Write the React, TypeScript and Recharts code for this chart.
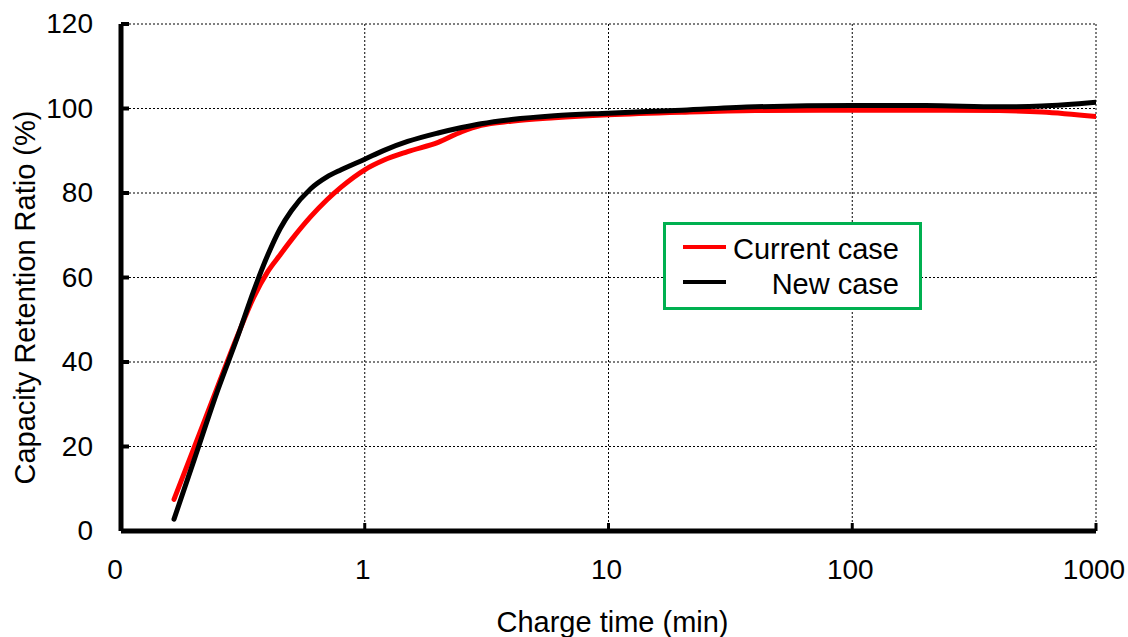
import React from 'react';
import { LineChart, Line, XAxis, YAxis, CartesianGrid, Legend } from 'recharts';

const chargeTimes = [0.165, 0.2, 0.25, 0.3, 0.35, 0.4, 0.45, 0.5, 0.6, 0.7, 0.8, 1, 1.2, 1.5, 2, 2.5, 3, 4, 6, 10, 20, 40, 100, 200, 400, 600, 1000];
const currentCase = [7.5, 19.9, 34.4, 46.1, 55.3, 61.4, 65.4, 68.9, 74.4, 78.4, 81.4, 85.5, 87.8, 89.8, 92, 94.5, 96, 97, 97.8, 98.5, 99.1, 99.5, 99.6, 99.6, 99.5, 99.2, 98.1];
const newCase = [2.8, 17, 33.5, 45.8, 56.8, 65.3, 71.6, 75.8, 81, 83.8, 85.5, 88, 90.1, 92.2, 94.2, 95.5, 96.4, 97.4, 98.3, 98.9, 99.6, 100.4, 100.7, 100.7, 100.4, 100.6, 101.5];

const xTicks = [0.1, 1, 10, 100, 1000];
const xTickLabels = ['0', '1', '10', '100', '1000'];
const yTicks = [0, 20, 40, 60, 80, 100, 120];

const seriesNames = { current: 'Current case', newc: 'New case' };

const data = chargeTimes.map((x, i) => ({ x, current: currentCase[i], newc: newCase[i] }));

const FONT = '"Liberation Sans", Arial, Helvetica, sans-serif';

const XTick = (props: any) => {
  const { x, y, payload, index } = props;
  const i = xTicks.indexOf(payload.value);
  const label = i >= 0 ? xTickLabels[i] : String(payload.value);
  const dx = index === 0 ? -6 : -2;
  return (
    <g>
      {index !== 0 && <line x1={x} x2={x} y1={y} y2={y - 8} stroke="#000" strokeWidth={3} />}
      <text x={x + dx} y={y + 48} textAnchor="middle" fontSize={28} fontFamily={FONT} fill="#000">
        {label}
      </text>
    </g>
  );
};

const YTick = (props: any) => {
  const { x, y, payload, index } = props;
  return (
    <g>
      {index !== 0 && <line x1={x} x2={x + 8} y1={y} y2={y} stroke="#000" strokeWidth={4} />}
      <text x={x - 28} y={y + 9} textAnchor="end" fontSize={28} fontFamily={FONT} fill="#000">
        {payload.value}
      </text>
    </g>
  );
};

const XLabel = (props: any) => {
  const vb = props.viewBox || { x: 121, y: 531, width: 975, height: 106 };
  return (
    <text x={vb.x + vb.width / 2 + 4} y={vb.y + 101} textAnchor="middle" fontSize={29} fontFamily={FONT} fill="#000">
      Charge time (min)
    </text>
  );
};

const YLabel = (props: any) => {
  const vb = props.viewBox || { x: 0, y: 24, width: 121, height: 507 };
  const cx = vb.x + 35;
  const cy = vb.y + vb.height / 2 + 20;
  return (
    <text x={cx} y={cy} transform={`rotate(-90, ${cx}, ${cy})`} textAnchor="middle" fontSize={29} fontFamily={FONT} fill="#000">
      Capacity Retention Ratio (%)
    </text>
  );
};

const LegendBox = (props: any) => {
  const payload = props.payload || [];
  return (
    <svg width={260} height={88} style={{ display: 'block' }}>
      <rect x={1.5} y={1.5} width={256} height={85} fill="#fff" stroke="#00B050" strokeWidth={3} />
      {payload.map((entry: any, i: number) => (
        <g key={i}>
          <line x1={20} x2={63} y1={25 + i * 35} y2={25 + i * 35} stroke={entry.color} strokeWidth={4} />
          <text x={236} y={37 + i * 35} textAnchor="end" fontSize={29} fontFamily={FONT} fill="#000">
            {entry.value}
          </text>
        </g>
      ))}
    </svg>
  );
};

export default function App() {
  return (
    <div style={{ position: 'absolute', left: 0, top: 0, width: 1128, height: 637, background: '#fff' }}>
      <LineChart width={1128} height={637} data={data} margin={{ top: 24, right: 32, bottom: 0, left: 0 }}>
        <CartesianGrid stroke="#000" strokeDasharray="2 2" strokeWidth={1} />
        <XAxis
          dataKey="x"
          type="number"
          scale="log"
          domain={[0.1, 1000]}
          ticks={xTicks}
          allowDataOverflow
          height={106}
          tickSize={0}
          tickMargin={0}
          tickLine={false}
          tick={XTick}
          axisLine={{ stroke: '#000', strokeWidth: 5 }}
          label={XLabel}
          interval={0}
        />
        <YAxis
          type="number"
          domain={[0, 120]}
          ticks={yTicks}
          width={121}
          tickSize={0}
          tickMargin={0}
          tickLine={false}
          tick={YTick}
          axisLine={{ stroke: '#000', strokeWidth: 5 }}
          label={YLabel}
          interval={0}
        />
        <Legend
          layout="vertical"
          align="center"
          verticalAlign="middle"
          content={LegendBox}
          wrapperStyle={{ position: 'absolute', left: 663, top: 222, width: 260, height: 88 }}
        />
        <Line
          type="monotone"
          dataKey="current"
          name={seriesNames.current}
          stroke="#FF0000"
          strokeWidth={5}
          strokeLinecap="round"
          dot={false}
          activeDot={false}
          isAnimationActive={false}
        />
        <Line
          type="monotone"
          dataKey="newc"
          name={seriesNames.newc}
          stroke="#000000"
          strokeWidth={5}
          strokeLinecap="round"
          dot={false}
          activeDot={false}
          isAnimationActive={false}
        />
      </LineChart>
    </div>
  );
}
